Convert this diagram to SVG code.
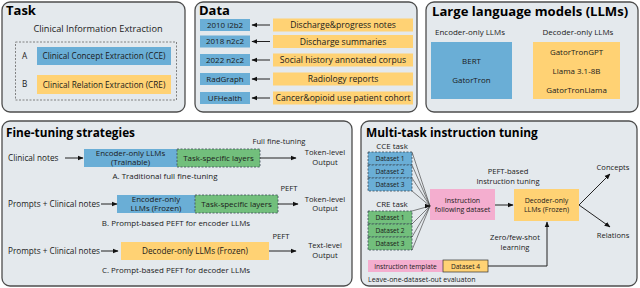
<svg xmlns="http://www.w3.org/2000/svg" width="640" height="288" viewBox="0 0 640 288">
<style>
.panel{fill:#E4E9ED;stroke:#4D4D4D;stroke-width:1.3}
.title{font-family:"Open Sans","Noto Sans",sans-serif;font-weight:bold;fill:#000}
.t{font-family:"Open Sans","Noto Sans",sans-serif;font-size:8.2px;fill:#1a1a1a}
.d{font-family:"Open Sans","Noto Sans",sans-serif;font-size:8.6px;fill:#1a1a1a}
.h{font-family:"Open Sans","Noto Sans",sans-serif;font-size:9.2px;fill:#1a1a1a}
.s{font-family:"Open Sans","Noto Sans",sans-serif;font-size:7.6px;fill:#1a1a1a}
.c{font-family:"Open Sans","Noto Sans",sans-serif;font-size:7.95px;fill:#1a1a1a}
.b2{font-family:"Open Sans","Noto Sans",sans-serif;font-size:7.9px;fill:#1a1a1a}
.xs{font-family:"Open Sans","Noto Sans",sans-serif;font-size:6.6px;fill:#1a1a1a}
.x7{font-family:"Open Sans","Noto Sans",sans-serif;font-size:7px;fill:#1a1a1a}
.m{text-anchor:middle}
.blue{fill:#6AAED6}
.orange{fill:#FFD274}
.green{fill:#72BF7C}
.pink{fill:#F4AECF}
.dash{stroke:#3b4a55;stroke-width:0.8;stroke-dasharray:2,1.5}
.ln{stroke:#222;stroke-width:1;fill:none}
.fan{stroke:#333;stroke-width:0.6;fill:none}
</style>
<defs>
<marker id="ah" viewBox="0 0 10 10" refX="9" refY="5" markerWidth="6" markerHeight="6" orient="auto" markerUnits="userSpaceOnUse">
<path d="M0,1 L10,5 L0,9 Z" fill="#111"/>
</marker>
</defs>

<g id="task">
<rect class="panel" x="2" y="2" width="183" height="110" rx="8"/>
<text class="title" x="6" y="15" font-size="13">Task</text>
<text class="h m" x="98" y="32">Clinical Information Extraction</text>
<rect x="15.5" y="42" width="161" height="58" fill="none" stroke="#666" stroke-width="0.8" stroke-dasharray="2,1.5"/>
<text class="t" x="22" y="59">A</text>
<rect class="blue" x="37" y="47" width="134" height="18"/>
<text class="t m" x="104" y="59">Clinical Concept Extraction (CCE)</text>
<text class="t" x="22" y="87">B</text>
<rect class="orange" x="37" y="75" width="134" height="19"/>
<text class="t m" x="104" y="87.5">Clinical Relation Extraction (CRE)</text>
</g>

<g id="data">
<rect class="panel" x="195" y="2" width="222" height="110" rx="8"/>
<text class="title" x="199" y="15" font-size="13">Data</text>
<rect class="blue" x="200" y="19" width="50" height="12"/>
<text class="c m" x="225" y="27.8">2010 i2b2</text>
<rect class="orange" x="273" y="18.5" width="140" height="13"/>
<text class="d m" x="343" y="28">Discharge&amp;progress notes</text>
<rect class="blue" x="200" y="35.5" width="50" height="12"/>
<text class="c m" x="225" y="44.3">2018 n2c2</text>
<rect class="orange" x="273" y="35" width="140" height="13"/>
<text class="d m" x="343" y="44.5">Discharge summaries</text>
<rect class="blue" x="200" y="54" width="50" height="12"/>
<text class="c m" x="225" y="62.8">2022 n2c2</text>
<rect class="orange" x="273" y="53.5" width="140" height="13"/>
<text class="d m" x="343" y="63">Social history annotated corpus</text>
<rect class="blue" x="200" y="73" width="50" height="12"/>
<text class="c m" x="225" y="81.8">RadGraph</text>
<rect class="orange" x="273" y="72.5" width="140" height="13"/>
<text class="d m" x="343" y="82">Radiology reports</text>
<rect class="blue" x="200" y="92" width="50" height="12"/>
<text class="c m" x="225" y="100.8">UFHealth</text>
<rect class="orange" x="273" y="91.5" width="140" height="13"/>
<text class="d m" x="343" y="101">Cancer&amp;opioid use patient cohort</text>
</g>

<g id="llms">
<rect class="panel" x="426" y="2" width="212" height="110" rx="8"/>
<text class="title" x="432" y="16" font-size="13.1">Large language models (LLMs)</text>
<text class="c m" x="470" y="34.5">Encoder-only LLMs</text>
<text class="c m" x="578" y="34.5">Decoder-only LLMs</text>
<rect class="blue" x="431" y="42" width="81" height="57"/>
<text class="c m" x="471.5" y="64">BERT</text>
<text class="c m" x="471.5" y="83">GatorTron</text>
<rect class="orange" x="533" y="42" width="87" height="57"/>
<text class="c m" x="576.5" y="55">GatorTronGPT</text>
<text class="c m" x="576.5" y="74">Llama 3.1-8B</text>
<text class="c m" x="576.5" y="93">GatorTronLlama</text>
</g>

<g id="finetuning">
<rect class="panel" x="2" y="121" width="350" height="165" rx="8"/>
<text class="title" x="6" y="137" font-size="11.8">Fine-tuning strategies</text>
<text class="t" x="8" y="161">Clinical notes</text>
<rect class="blue" x="84" y="149" width="93" height="18"/>
<text class="b2 m" x="130.5" y="155.6">Encoder-only LLMs</text>
<text class="b2 m" x="130.5" y="164.7">(Trainable)</text>
<rect class="green dash" x="177" y="149" width="83" height="18"/>
<text class="c m" x="218.5" y="160.8">Task-specific layers</text>
<text class="s m" x="279" y="143.5">Full fine-tuning</text>
<text class="s m" x="325" y="155">Token-level</text>
<text class="s m" x="325" y="164.5">Output</text>
<text class="c m" x="165" y="178.5">A. Traditional full fine-tuning</text>

<text class="t" x="8" y="207" font-size="8">Prompts + Clinical notes</text>
<rect class="blue" x="117" y="195" width="78" height="18"/>
<text class="b2 m" x="156" y="201.6">Encoder-only</text>
<text class="b2 m" x="156" y="210.7">LLMs (Frozen)</text>
<rect class="green dash" x="195" y="195" width="83" height="18"/>
<text class="c m" x="236.5" y="206.8">Task-specific layers</text>
<text class="s m" x="289" y="191">PEFT</text>
<text class="s m" x="325" y="201.5">Token-level</text>
<text class="s m" x="325" y="211">Output</text>
<text class="c m" x="176" y="225.5">B. Prompt-based PEFT for encoder LLMs</text>

<text class="t" x="8" y="254">Prompts + Clinical notes</text>
<rect class="orange" x="121" y="242" width="148" height="18"/>
<text class="t m" x="195" y="254">Decoder-only LLMs (Frozen)</text>
<text class="s m" x="281" y="239">PEFT</text>
<text class="s m" x="325" y="248">Text-level</text>
<text class="s m" x="325" y="257.5">Output</text>
<text class="c m" x="176" y="272.5">C. Prompt-based PEFT for decoder LLMs</text>
</g>

<g id="multitask">
<rect class="panel" x="361" y="121" width="276" height="165" rx="8"/>
<text class="title" x="366" y="137" font-size="11.9">Multi-task instruction tuning</text>
<text class="c m" x="392" y="149">CCE task</text>
<rect class="blue dash" x="368" y="152" width="44" height="13"/>
<text class="xs m" x="390" y="161">Dataset 1</text>
<rect class="blue dash" x="368" y="165" width="44" height="13"/>
<text class="xs m" x="390" y="174">Dataset 2</text>
<rect class="blue dash" x="368" y="178" width="44" height="13"/>
<text class="xs m" x="390" y="187">Dataset 3</text>
<text class="c m" x="392" y="207">CRE task</text>
<rect class="green dash" x="368" y="211" width="44" height="13"/>
<text class="xs m" x="390" y="220">Dataset 1</text>
<rect class="green dash" x="368" y="224" width="44" height="13"/>
<text class="xs m" x="390" y="233">Dataset 2</text>
<rect class="green dash" x="368" y="237" width="44" height="13"/>
<text class="xs m" x="390" y="246">Dataset 3</text>
<rect class="pink" x="430" y="189" width="65" height="31"/>
<text class="x7 m" x="462.5" y="203">Instruction</text>
<text class="x7 m" x="462.5" y="212">following dataset</text>
<text class="s m" x="508" y="174">PEFT-based</text>
<text class="s m" x="508" y="183.5">Instruction tuning</text>
<rect class="orange" x="514" y="189" width="65" height="32"/>
<text class="x7 m" x="546.5" y="203">Decoder-only</text>
<text class="x7 m" x="546.5" y="212">LLMs (Frozen)</text>
<text class="s m" x="613" y="170">Concepts</text>
<text class="s m" x="613" y="237.5">Relations</text>
<text class="s m" x="515" y="240">Zero/few-shot</text>
<text class="s m" x="515" y="249.5">learning</text>
<rect class="pink" x="368" y="260" width="75" height="12"/>
<text class="xs m" x="405.5" y="268.5">Instruction template</text>
<rect class="orange" x="443" y="260" width="45" height="12" stroke="#333" stroke-width="0.7"/>
<text class="xs m" x="465.5" y="268.5">Dataset 4</text>
<text class="x7" x="368" y="282">Leave-one-dataset-out evaluaton</text>
</g>

<g id="connectors">
<line class="ln" x1="270" y1="25" x2="252" y2="25" marker-end="url(#ah)"/>
<line class="ln" x1="270" y1="41.5" x2="252" y2="41.5" marker-end="url(#ah)"/>
<line class="ln" x1="270" y1="60" x2="252" y2="60" marker-end="url(#ah)"/>
<line class="ln" x1="270" y1="79" x2="252" y2="79" marker-end="url(#ah)"/>
<line class="ln" x1="270" y1="98" x2="252" y2="98" marker-end="url(#ah)"/>

<line class="ln" x1="65" y1="158" x2="83" y2="158" marker-end="url(#ah)"/>
<line class="ln" x1="260" y1="158" x2="296" y2="158" marker-end="url(#ah)"/>
<line class="ln" x1="101" y1="204" x2="117" y2="204" marker-end="url(#ah)"/>
<line class="ln" x1="278" y1="204" x2="298" y2="204" marker-end="url(#ah)"/>
<line class="ln" x1="101" y1="251" x2="118" y2="251" marker-end="url(#ah)"/>
<line class="ln" x1="269" y1="251" x2="296" y2="251" marker-end="url(#ah)"/>

<line class="fan" x1="412" y1="152" x2="430" y2="206"/>
<line class="fan" x1="412" y1="165" x2="430" y2="206"/>
<line class="fan" x1="412" y1="178" x2="430" y2="206"/>
<line class="fan" x1="412" y1="191" x2="430" y2="206"/>
<line class="fan" x1="412" y1="211" x2="430" y2="206"/>
<line class="fan" x1="412" y1="224" x2="430" y2="206"/>
<line class="fan" x1="412" y1="237" x2="430" y2="206"/>
<line class="fan" x1="412" y1="250" x2="430" y2="206"/>
<line class="ln" x1="425" y1="206" x2="430" y2="206" marker-end="url(#ah)"/>

<line class="ln" x1="495" y1="205" x2="513" y2="205" marker-end="url(#ah)"/>
<line class="ln" x1="579" y1="205" x2="610" y2="174" marker-end="url(#ah)"/>
<line class="ln" x1="579" y1="205" x2="610" y2="227" marker-end="url(#ah)"/>
<polyline class="ln" points="488,266 547,266 547,222" marker-end="url(#ah)"/>
</g>
</svg>
